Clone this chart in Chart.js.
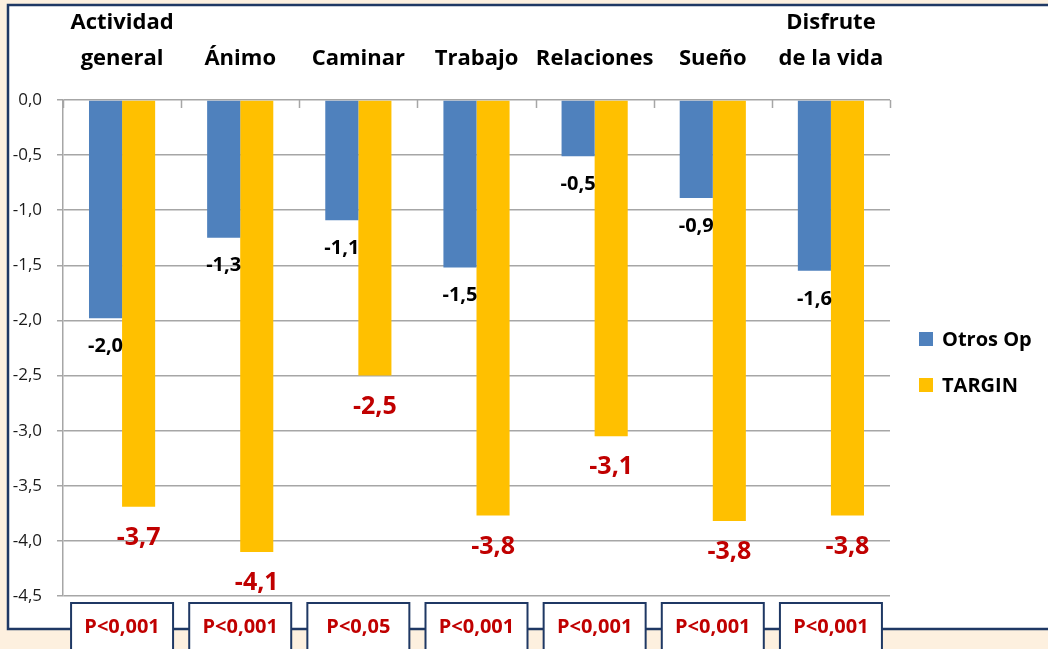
<!DOCTYPE html>
<html>
<head>
<meta charset="utf-8">
<script src="https://cdn.jsdelivr.net/npm/chart.js@4.4.1/dist/chart.umd.min.js"></script>
<style>
html,body{margin:0;padding:0;background:#FDF0DF;}
canvas{display:block;}
</style>
</head>
<body>
<canvas id="c" width="1048" height="649"></canvas>
<script>
const categories = [["Actividad","general"],"Ánimo","Caminar","Trabajo","Relaciones","Sueño",["Disfrute","de la vida"]];
const otrosValues = [-1.98,-1.25,-1.09,-1.52,-0.51,-0.89,-1.55];
const targinValues = [-3.69,-4.10,-2.50,-3.77,-3.05,-3.82,-3.77];
const otrosLabels = ["-2,0","-1,3","-1,1","-1,5","-0,5","-0,9","-1,6"];
const targinLabels = ["-3,7","-4,1","-2,5","-3,8","-3,1","-3,8","-3,8"];
const pValues = ["P<0,001","P<0,001","P<0,05","P<0,001","P<0,001","P<0,001","P<0,001"];
const yTickValues = [-4.5,-4.0,-3.5,-3.0,-2.5,-2.0,-1.5,-1.0,-0.5,0];
const yTickLabels = ["-4,5","-4,0","-3,5","-3,0","-2,5","-2,0","-1,5","-1,0","-0,5","0,0"];
const seriesNames = ["Otros Op","TARGIN"];

const BLUE = "#4F81BD", YELLOW = "#FFC000", RED = "#C00000", NAVY = "#1F3864", GRID = "#A6A6A6";
const FONT = "'Open Sans', 'DejaVu Sans', sans-serif";

const framePlugin = {
  id: 'frame',
  beforeDraw(chart) {
    const ctx = chart.ctx;
    ctx.save();
    ctx.fillStyle = "#FDF0DF";
    ctx.fillRect(0, 0, chart.width, chart.height);
    ctx.fillStyle = "#FFFFFF";
    ctx.fillRect(8, 5, chart.width - 8, 624);
    ctx.strokeStyle = NAVY;
    ctx.lineWidth = 2.5;
    ctx.beginPath();
    ctx.moveTo(chart.width, 5); ctx.lineTo(8, 5); ctx.lineTo(8, 629); ctx.lineTo(chart.width, 629);
    ctx.stroke();
    ctx.restore();
  },
  afterDatasetsDraw(chart) {
    const ctx = chart.ctx;
    const xs = chart.scales.x;
    const ys = chart.scales.y;
    const area = chart.chartArea;
    ctx.save();
    // downward tick marks on category axis at zero line
    ctx.strokeStyle = GRID;
    ctx.lineWidth = 1.5;
    const y0 = ys.getPixelForValue(0);
    const n = categories.length;
    const step = (area.right - area.left) / n;
    ctx.beginPath();
    for (let i = 0; i <= n; i++) {
      const x = Math.round(area.left + i * step) + 0.5;
      ctx.moveTo(x, y0); ctx.lineTo(x, y0 + 8);
    }
    ctx.stroke();

    // data labels
    ctx.textAlign = 'center';
    ctx.textBaseline = 'middle';
    const m0 = chart.getDatasetMeta(0);
    const m1 = chart.getDatasetMeta(1);
    ctx.font = "bold 20px " + FONT;
    ctx.fillStyle = "#000000";
    m0.data.forEach((bar, i) => {
      ctx.fillText(otrosLabels[i], bar.x, bar.y + 28);
    });
    ctx.font = "bold 25px " + FONT;
    ctx.fillStyle = RED;
    m1.data.forEach((bar, i) => {
      ctx.fillText(targinLabels[i], bar.x, bar.y + 31);
    });

    // legend
    const colors = [BLUE, YELLOW];
    const ly = [339, 385];
    ctx.textAlign = 'left';
    ctx.font = "bold 20px " + FONT;
    seriesNames.forEach((name, i) => {
      ctx.fillStyle = colors[i];
      ctx.fillRect(919, ly[i] - 7, 14, 14);
      ctx.fillStyle = "#000000";
      ctx.fillText(name, 942, ly[i] + 1);
    });

    // p-value boxes
    ctx.textAlign = 'center';
    ctx.font = "bold 20px " + FONT;
    pValues.forEach((p, i) => {
      const cx = xs.getPixelForValue(i);
      const w = 102;
      ctx.fillStyle = "#FFFFFF";
      ctx.fillRect(cx - w / 2, 603, w, 60);
      ctx.strokeStyle = NAVY;
      ctx.lineWidth = 2;
      ctx.strokeRect(cx - w / 2, 603, w, 60);
      ctx.fillStyle = RED;
      ctx.fillText(p, cx, 627);
    });
    ctx.restore();
  }
};

new Chart(document.getElementById('c'), {
  type: 'bar',
  data: {
    labels: categories,
    datasets: [
      { label: seriesNames[0], data: otrosValues, backgroundColor: BLUE, categoryPercentage: 0.56, barPercentage: 1.0 },
      { label: seriesNames[1], data: targinValues, backgroundColor: YELLOW, categoryPercentage: 0.56, barPercentage: 1.0 }
    ]
  },
  options: {
    responsive: false,
    animation: false,
    devicePixelRatio: 1,
    layout: { padding: { left: 0, top: 0, right: 158, bottom: 53 } },
    plugins: { legend: { display: false }, tooltip: { enabled: false } },
    scales: {
      x: {
        position: 'top',
        offset: true,
        grid: { display: false },
        border: { display: false },
        ticks: {
          color: "#000000",
          font: { family: FONT, size: 22, weight: 'bold', lineHeight: 1.6 },
          padding: 16,
          maxRotation: 0,
          autoSkip: false
        },
        afterFit(scale) { scale.height = 100; }
      },
      y: {
        min: -4.5,
        max: 0,
        afterBuildTicks(scale) { scale.ticks = yTickValues.map(v => ({ value: v })); },
        grid: { color: GRID, lineWidth: 1.5, tickLength: 6 },
        border: { color: GRID, width: 1.5 },
        ticks: {
          color: "#1a1a1a",
          font: { family: FONT, size: 17 },
          padding: 15,
          callback(v) { const i = yTickValues.findIndex(t => Math.abs(t - v) < 1e-6); return i >= 0 ? yTickLabels[i] : ''; }
        },
        afterFit(scale) { scale.width = 63; }
      }
    }
  },
  plugins: [framePlugin]
});
</script>
</body>
</html>
